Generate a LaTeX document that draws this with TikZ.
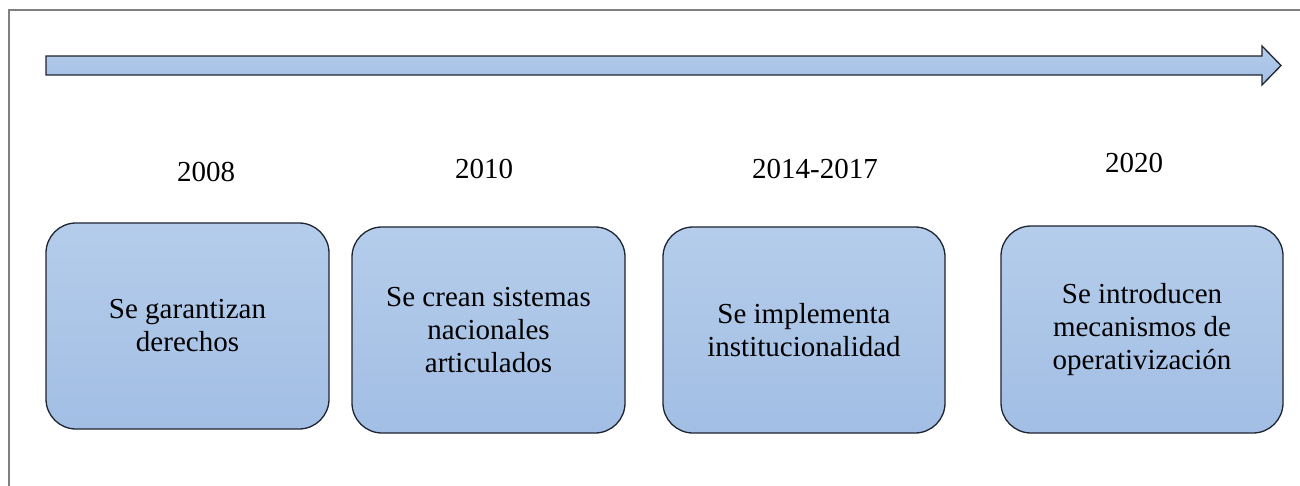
\documentclass[tikz,border=0pt]{standalone}
\usepackage{fontspec}
\setmainfont{Liberation Serif}
\definecolor{boxtop}{HTML}{B5CDEB}
\definecolor{boxbot}{HTML}{A2BEE4}
\definecolor{edge}{HTML}{1E2430}
\definecolor{frame}{HTML}{808080}
\tikzset{
  event/.style={rectangle, rounded corners=30pt, draw=edge, line width=1.3pt,
    top color=boxtop, bottom color=boxbot, inner sep=0pt, align=center,
    font=\fontsize{29}{33}\selectfont},
  year/.style={anchor=base, inner sep=0pt, font=\fontsize{29}{33}\selectfont},
}
\begin{document}
\begin{tikzpicture}[x=1pt,y=-1pt]
\useasboundingbox (0,0) rectangle (1300,486);
% frame
\draw[frame, line width=1.5pt] (9,486) -- (9,10) -- (1300,10);
% timeline arrow
\draw[edge, line width=1.3pt, top color=boxtop, bottom color=boxbot]
  (46,56) -- (1262,56) -- (1262,46) -- (1281,65.5) -- (1262,85) -- (1262,75) -- (46,75) -- cycle;
% years
\node[year] (y1) at (206,182) {2008};
\node[year] (y2) at (484,179) {2010};
\node[year] (y3) at (815,179) {2014-2017};
\node[year] (y4) at (1134,173) {2020};
% boxes
\node[event, minimum width=283pt, minimum height=206pt] (b1) at (187.5,326) {Se garantizan\\derechos};
\node[event, minimum width=273pt, minimum height=206pt] (b2) at (488.5,330) {Se crean sistemas\\nacionales\\articulados};
\node[event, minimum width=282pt, minimum height=206pt] (b3) at (804,330) {Se implementa\\institucionalidad};
\node[event, minimum width=282pt, minimum height=207pt] (b4) at (1142,329.5) {Se introducen\\mecanismos de\\operativización};
\end{tikzpicture}
\end{document}
